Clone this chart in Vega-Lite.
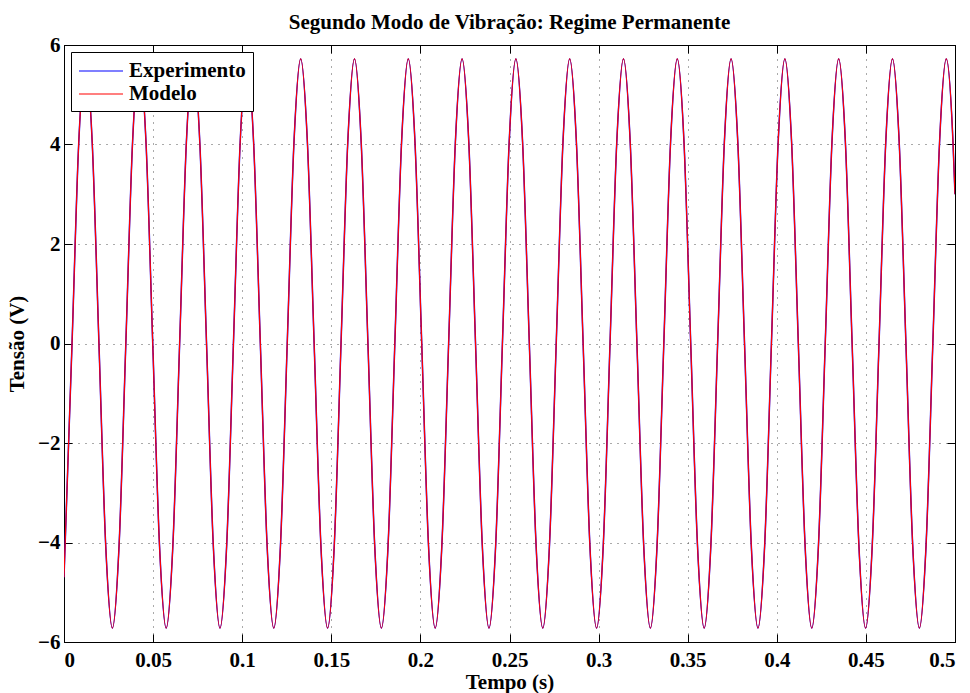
{
  "$schema": "https://vega.github.io/schema/vega-lite/v6.json",
  "width": 891,
  "height": 597,
  "autosize": "none",
  "padding": {"left": 64, "top": 45, "right": 14, "bottom": 51},
  "background": "white",
  "title": {"text": "Segundo Modo de Vibração: Regime Permanente", "font": "Liberation Serif", "fontSize": 21, "fontWeight": "bold", "color": "black", "offset": 1},
  "data": {"values": [
    {"t": 0, "v": -4.7},
    {"t": 0.00451, "v": 0}, {"t": 0.00828, "v": 4.04}, {"t": 0.01206, "v": 5.72}, {"t": 0.01583, "v": 4.04}, {"t": 0.01961, "v": 0}, {"t": 0.02338, "v": -4.04}, {"t": 0.02715, "v": -5.72}, {"t": 0.03093, "v": -4.04},
    {"t": 0.0347, "v": 0}, {"t": 0.03847, "v": 4.04}, {"t": 0.04225, "v": 5.72}, {"t": 0.04602, "v": 4.04}, {"t": 0.0498, "v": 0}, {"t": 0.05357, "v": -4.04}, {"t": 0.05734, "v": -5.72}, {"t": 0.06112, "v": -4.04},
    {"t": 0.06489, "v": 0}, {"t": 0.06867, "v": 4.04}, {"t": 0.07244, "v": 5.72}, {"t": 0.07621, "v": 4.04}, {"t": 0.07999, "v": 0}, {"t": 0.08376, "v": -4.04}, {"t": 0.08753, "v": -5.72}, {"t": 0.09131, "v": -4.04},
    {"t": 0.09508, "v": 0}, {"t": 0.09886, "v": 4.04}, {"t": 0.10263, "v": 5.72}, {"t": 0.1064, "v": 4.04}, {"t": 0.11018, "v": 0}, {"t": 0.11395, "v": -4.04}, {"t": 0.11772, "v": -5.72}, {"t": 0.1215, "v": -4.04},
    {"t": 0.12527, "v": 0}, {"t": 0.12905, "v": 4.04}, {"t": 0.13282, "v": 5.72}, {"t": 0.13659, "v": 4.04}, {"t": 0.14037, "v": 0}, {"t": 0.14414, "v": -4.04}, {"t": 0.14792, "v": -5.72}, {"t": 0.15169, "v": -4.04},
    {"t": 0.15546, "v": 0}, {"t": 0.15924, "v": 4.04}, {"t": 0.16301, "v": 5.72}, {"t": 0.16678, "v": 4.04}, {"t": 0.17056, "v": 0}, {"t": 0.17433, "v": -4.04}, {"t": 0.17811, "v": -5.72}, {"t": 0.18188, "v": -4.04},
    {"t": 0.18565, "v": 0}, {"t": 0.18943, "v": 4.04}, {"t": 0.1932, "v": 5.72}, {"t": 0.19697, "v": 4.04}, {"t": 0.20075, "v": 0}, {"t": 0.20452, "v": -4.04}, {"t": 0.2083, "v": -5.72}, {"t": 0.21207, "v": -4.04},
    {"t": 0.21584, "v": 0}, {"t": 0.21962, "v": 4.04}, {"t": 0.22339, "v": 5.72}, {"t": 0.22716, "v": 4.04}, {"t": 0.23094, "v": 0}, {"t": 0.23471, "v": -4.04}, {"t": 0.23849, "v": -5.72}, {"t": 0.24226, "v": -4.04},
    {"t": 0.24603, "v": 0}, {"t": 0.24981, "v": 4.04}, {"t": 0.25358, "v": 5.72}, {"t": 0.25735, "v": 4.04}, {"t": 0.26113, "v": 0}, {"t": 0.2649, "v": -4.04}, {"t": 0.26868, "v": -5.72}, {"t": 0.27245, "v": -4.04},
    {"t": 0.27622, "v": 0}, {"t": 0.28, "v": 4.04}, {"t": 0.28377, "v": 5.72}, {"t": 0.28755, "v": 4.04}, {"t": 0.29132, "v": 0}, {"t": 0.29509, "v": -4.04}, {"t": 0.29887, "v": -5.72}, {"t": 0.30264, "v": -4.04},
    {"t": 0.30641, "v": 0}, {"t": 0.31019, "v": 4.04}, {"t": 0.31396, "v": 5.72}, {"t": 0.31774, "v": 4.04}, {"t": 0.32151, "v": 0}, {"t": 0.32528, "v": -4.04}, {"t": 0.32906, "v": -5.72}, {"t": 0.33283, "v": -4.04},
    {"t": 0.3366, "v": 0}, {"t": 0.34038, "v": 4.04}, {"t": 0.34415, "v": 5.72}, {"t": 0.34793, "v": 4.04}, {"t": 0.3517, "v": 0}, {"t": 0.35547, "v": -4.04}, {"t": 0.35925, "v": -5.72}, {"t": 0.36302, "v": -4.04},
    {"t": 0.3668, "v": 0}, {"t": 0.37057, "v": 4.04}, {"t": 0.37434, "v": 5.72}, {"t": 0.37812, "v": 4.04}, {"t": 0.38189, "v": 0}, {"t": 0.38566, "v": -4.04}, {"t": 0.38944, "v": -5.72}, {"t": 0.39321, "v": -4.04},
    {"t": 0.39699, "v": 0}, {"t": 0.40076, "v": 4.04}, {"t": 0.40453, "v": 5.72}, {"t": 0.40831, "v": 4.04}, {"t": 0.41208, "v": 0}, {"t": 0.41585, "v": -4.04}, {"t": 0.41963, "v": -5.72}, {"t": 0.4234, "v": -4.04},
    {"t": 0.42718, "v": 0}, {"t": 0.43095, "v": 4.04}, {"t": 0.43472, "v": 5.72}, {"t": 0.4385, "v": 4.04}, {"t": 0.44227, "v": 0}, {"t": 0.44605, "v": -4.04}, {"t": 0.44982, "v": -5.72}, {"t": 0.45359, "v": -4.04},
    {"t": 0.45737, "v": 0}, {"t": 0.46114, "v": 4.04}, {"t": 0.46491, "v": 5.72}, {"t": 0.46869, "v": 4.04}, {"t": 0.47246, "v": 0}, {"t": 0.47624, "v": -4.04}, {"t": 0.48001, "v": -5.72}, {"t": 0.48378, "v": -4.04},
    {"t": 0.48756, "v": 0}, {"t": 0.49133, "v": 4.04}, {"t": 0.4951, "v": 5.72}, {"t": 0.49888, "v": 4.04}, {"t": 0.5, "v": 3.0}
  ]},
  "layer": [
    {
      "mark": {"type": "line", "interpolate": "monotone", "strokeWidth": 1.5, "clip": true},
      "encoding": {
        "x": {"field": "t", "type": "quantitative", "scale": {"domain": [0, 0.5], "nice": false, "zero": false},
          "axis": {"orient": "bottom", "values": [0, 0.05, 0.1, 0.15, 0.2, 0.25, 0.3, 0.35, 0.4, 0.45, 0.5], "labelExpr": "format(datum.value, '~g')", "title": "Tempo (s)", "grid": true, "tickSize": -8, "labelPadding": 15, "titlePadding": 1}},
        "y": {"field": "v", "type": "quantitative", "scale": {"domain": [-6, 6], "nice": false, "zero": false},
          "axis": {"orient": "left", "values": [-6, -4, -2, 0, 2, 4, 6], "labelExpr": "format(datum.value, '~g')", "title": "Tensão (V)", "grid": true, "tickSize": -8, "labelPadding": 12, "titlePadding": 10}},
        "color": {"datum": "Experimento", "type": "nominal",
          "scale": {"domain": ["Experimento", "Modelo"], "range": ["#0000ff", "#ff0000"]},
          "legend": {"orient": "top-left", "offset": 7, "title": null, "strokeColor": "black", "fillColor": "white", "padding": 7, "cornerRadius": 0,
            "labelFont": "Liberation Serif", "labelFontSize": 21, "labelFontWeight": "bold", "labelColor": "black",
            "symbolType": "M-1,0H3", "symbolSize": 484, "symbolStrokeWidth": 1.2, "rowPadding": 1, "labelOffset": 27}}
      }
    },
    {
      "mark": {"type": "line", "interpolate": "monotone", "strokeWidth": 1.2, "clip": true},
      "encoding": {
        "x": {"field": "t", "type": "quantitative",
          "axis": {"orient": "top", "values": [0, 0.05, 0.1, 0.15, 0.2, 0.25, 0.3, 0.35, 0.4, 0.45, 0.5], "labels": false, "title": null, "grid": false, "tickSize": -8}},
        "y": {"field": "v", "type": "quantitative",
          "axis": {"orient": "right", "values": [-6, -4, -2, 0, 2, 4, 6], "labels": false, "title": null, "grid": false, "tickSize": -8}},
        "color": {"datum": "Modelo", "type": "nominal"}
      }
    }
  ],
  "resolve": {"axis": {"x": "independent", "y": "independent"}},
  "config": {
    "view": {"stroke": "black", "strokeWidth": 1},
    "axis": {
      "domainColor": "black", "tickColor": "black", "labelColor": "black", "titleColor": "black",
      "labelFont": "Liberation Serif", "labelFontSize": 21, "labelFontWeight": "bold",
      "titleFont": "Liberation Serif", "titleFontSize": 21, "titleFontWeight": "bold",
      "gridColor": "#555555", "gridDash": [1, 6], "gridOpacity": 1, "gridWidth": 1
    }
  }
}
